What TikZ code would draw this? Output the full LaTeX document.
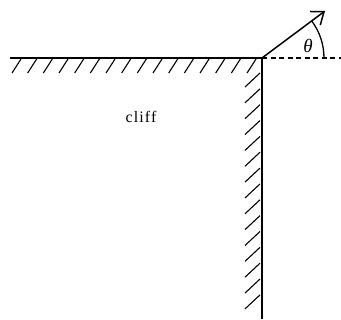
\documentclass[tikz,border=0pt]{standalone}
\usepackage{fontspec}
\setmainfont{Liberation Serif}
\usetikzlibrary{arrows.meta}
\begin{document}
\begin{tikzpicture}[x=1pt,y=1pt,
  wall/.style={line width=2pt},
  hatch/.style={line width=1.1pt},
  ray/.style={line width=1.5pt,-{Straight Barb[length=11pt,width=17pt,line width=1.5pt]}},
  refline/.style={line width=1.2pt,dash pattern=on 5pt off 3.5pt},
  lbl/.style={inner sep=0pt,font=\fontsize{19}{19}\selectfont}]
\useasboundingbox (0,0) rectangle (341,320);
\coordinate (corner) at (262,262);
\coordinate (left) at (10,262);
\coordinate (bottom) at (262,1);
\coordinate (far) at (341,262);
\coordinate (tip) at (325,309);
% horizontal hatches
\foreach \i in {0,...,15}{
  \draw[hatch] ({12+15.67*\i},247) -- ({21+15.67*\i},261);
}
% vertical hatches
\foreach \i in {0,...,14}{
  \draw[hatch] (245,{233-15.85*\i}) -- (260,{247-15.85*\i});
}
\draw[wall] (left) -- (corner) -- (bottom);
\draw[refline] (corner) -- (far);
\draw[ray] (corner) -- (tip);
\draw[line width=1.3pt] ([shift={(0:62)}]corner) arc[start angle=0,end angle=36.7,radius=62];
\node[lbl] (theta) at (308,274) {\textit{θ}};
\node[lbl,font=\addfontfeature{LetterSpace=7}\fontsize{16}{16}\selectfont] (cliff) at (141,203) {cliff};
\end{tikzpicture}
\end{document}
